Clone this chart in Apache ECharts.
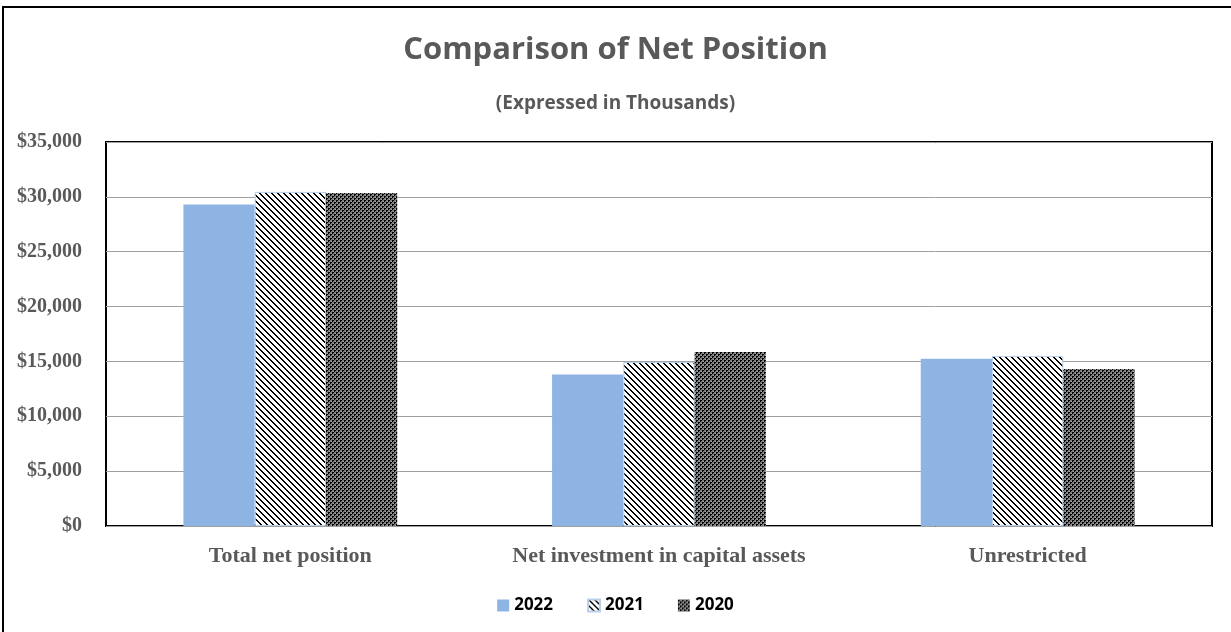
<!DOCTYPE html>
<html><head><meta charset="utf-8">
<script src="https://cdn.jsdelivr.net/npm/echarts@6/dist/echarts.min.js"></script>
<style>html,body{margin:0;padding:0;background:#fff}#c{width:1231px;height:632px}</style>
</head><body><div id="c"></div>
<script>
const categories = ['Total net position', 'Net investment in capital assets', 'Unrestricted'];
const seriesNames = ['2022', '2021', '2020'];
const values2022 = [29300, 13800, 15250];
const values2021 = [30450, 14950, 15500];
const values2020 = [30350, 15850, 14300];
const yTicks = [0, 5000, 10000, 15000, 20000, 25000, 30000, 35000];

function makeHatch() {
  const c = document.createElement('canvas');
  c.width = 6; c.height = 6;
  const g = c.getContext('2d');
  g.fillStyle = '#ffffff'; g.fillRect(0, 0, 6, 6);
  g.fillStyle = '#000000';
  for (let i = 0; i < 6; i++) { g.fillRect(i, i, 1, 1); g.fillRect((i + 1) % 6, i, 1, 1); }
  return c;
}
function makeCheck() {
  const c = document.createElement('canvas');
  c.width = 4; c.height = 4;
  const g = c.getContext('2d');
  g.fillStyle = '#7a7a7a'; g.fillRect(0, 0, 4, 4);
  g.fillStyle = '#000000';
  g.fillRect(0, 0, 2, 1); g.fillRect(2, 2, 2, 1); g.fillRect(0, 1, 1, 1); g.fillRect(2, 3, 1, 1);
  g.fillStyle = '#a8a8a8';
  g.fillRect(3, 1, 1, 1); g.fillRect(1, 3, 1, 1);
  return c;
}
const hatch = { image: makeHatch(), repeat: 'repeat' };
const check = { image: makeCheck(), repeat: 'repeat' };

const chart = echarts.init(document.getElementById('c'), null, { renderer: 'canvas' });
const serif = '"Liberation Serif", "DejaVu Serif", serif';
const sans = '"Open Sans", "Noto Sans", sans-serif';
chart.setOption({
  animation: false,
  backgroundColor: '#fff',
  title: [
    { text: 'Comparison of Net Position', left: 'center', top: 30,
      textStyle: { fontFamily: sans, fontWeight: 'bold', fontSize: 31, color: '#595959' } },
    { text: '(Expressed in Thousands)', left: 'center', top: 89,
      textStyle: { fontFamily: sans, fontWeight: 'bold', fontSize: 19, color: '#595959' } }
  ],
  graphic: [{ type: 'rect', shape: { x: 3, y: 7, width: 1260, height: 660 },
    style: { fill: 'none', stroke: '#000', lineWidth: 2 }, silent: true, z: 100 }],
  legend: {
    data: seriesNames, bottom: 13, left: 'center', itemWidth: 12, itemHeight: 12, itemGap: 34,
    icon: 'rect',
    textStyle: { fontFamily: sans, fontWeight: 'bold', fontSize: 17, color: '#000' }
  },
  grid: { left: 106, top: 142, right: 19, bottom: 106, show: true, borderColor: '#000', borderWidth: 2, backgroundColor: 'transparent' },
  xAxis: {
    type: 'category', data: categories,
    axisLine: { show: false }, axisTick: { show: false },
    axisLabel: { interval: 0, hideOverlap: false, fontFamily: serif, fontWeight: 'bold', fontSize: 22, color: '#595959', margin: 19 }
  },
  yAxis: {
    type: 'value', min: yTicks[0], max: yTicks[yTicks.length - 1], interval: 5000,
    axisLine: { show: false }, axisTick: { show: false },
    splitLine: { lineStyle: { color: '#a0a0a0', width: 1 } },
    axisLabel: { fontFamily: serif, fontWeight: 'bold', fontSize: 20, color: '#595959', margin: 24,
      formatter: v => '$' + v.toLocaleString('en-US') }
  },
  series: [
    { name: seriesNames[0], type: 'bar', data: values2022, barGap: '0%', barCategoryGap: '42%',
      itemStyle: { color: '#8eb4e3' } },
    { name: seriesNames[1], type: 'bar', data: values2021, barGap: '0%', barCategoryGap: '42%',
      itemStyle: { color: hatch, borderColor: '#b8d0ec', borderWidth: 1 } },
    { name: seriesNames[2], type: 'bar', data: values2020, barGap: '0%', barCategoryGap: '42%',
      itemStyle: { color: check } }
  ]
});
</script></body></html>
